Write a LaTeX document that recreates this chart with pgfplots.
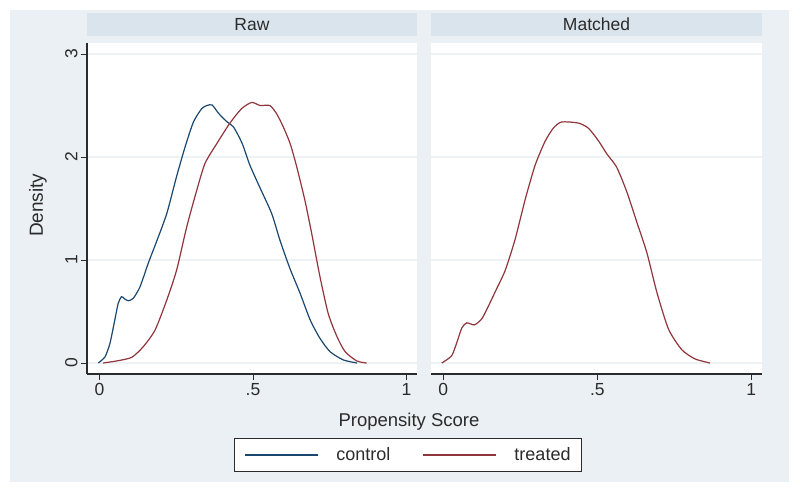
\documentclass[border=0pt]{standalone}
\usepackage{fontspec}
\setmainfont{Liberation Sans}
\usepackage{pgfplots}
\pgfplotsset{compat=1.18}

\definecolor{bgcol}{HTML}{EAF0F4}
\definecolor{stripcol}{HTML}{D9E4EC}
\definecolor{gridcol}{HTML}{EDF2F5}
\definecolor{ctrlcol}{HTML}{1A476F}
\definecolor{treatcol}{HTML}{90353B}
\definecolor{inkcol}{HTML}{2B2B2B}

\pgfplotsset{
  panel/.style={
    scale only axis, width=330bp, height=331bp,
    ymin=-0.1068, ymax=3.107,
    axis x line*=bottom, axis y line*=left,
    axis line style={inkcol, line width=1.1bp, -},
    ytick={0,1,2,3}, yticklabels={0,1,2,3},
    xtick={0,0.5,1}, xticklabels={0,.5,1},
    tick align=outside, major tick length=6bp,
    tick style={inkcol, line width=1bp},
    ymajorgrids, grid style={gridcol, line width=1.2bp},
    axis background/.style={fill=white},
    ticklabel style={font=\fontsize{17.5bp}{20bp}\selectfont, text=inkcol},
    yticklabel style={rotate=90, anchor=south},
    /pgf/number format/assume math mode=true,
    title style={at={(0.5,1)}, anchor=south, yshift=1bp, fill=stripcol,
      minimum width=330bp, minimum height=23bp, inner sep=0pt,
      font=\fontsize{17.5bp}{20bp}\selectfont, text=inkcol},
    every axis plot/.append style={line width=1.2bp, smooth, tension=0.4},
  },
  % legend sample: a thin filled bar 73bp long in the given colour, room after it
  keyline/.style={legend image code/.code={
    \begin{pgfscope}
      \pgfsetfillcolor{#1}
      \pgfpathrectangle{\pgfpoint{0bp}{-0.55bp}}{\pgfpoint{73bp}{1.1bp}}
      \pgfusepath{fill}
    \end{pgfscope}
    \pgfpathmoveto{\pgfpoint{91bp}{5bp}}
    \pgfpathmoveto{\pgfpoint{0bp}{-5bp}}
    \pgfusepath{}}},
}

\begin{document}
\begin{tikzpicture}
\path[use as bounding box] (0bp,0bp) rectangle (800bp,-493bp);
\fill[bgcol] (10bp,-10bp) rectangle (789bp,-482bp);

% Raw
\begin{axis}[panel, at={(87bp,-374bp)}, anchor=south west,
  xmin=-0.0407, xmax=1.0342,
  title={Raw},
  ylabel={Density},
  ylabel style={at={(axis description cs:-0.1485,0.51)}, anchor=center,
    font=\fontsize{19bp}{21bp}\selectfont, text=inkcol},
  xlabel={Propensity Score},
  xlabel style={at={(axis description cs:0.9758,-0.1571)}, anchor=base,
    font=\fontsize{18.5bp}{21bp}\selectfont, text=inkcol},
  legend columns=2,
  legend style={at={(0.9727,-0.2447)}, anchor=center, draw=inkcol,
    line width=1.1bp, fill=white, inner xsep=11bp, inner ysep=9bp,
    font=\fontsize{18bp}{21bp}\selectfont,
    nodes={inner sep=0pt},
    /tikz/every even column/.append style={column sep=33bp}},
]
\addplot[ctrlcol, keyline=ctrlcol] coordinates {
(-0.004,0) (0.018,0.06) (0.034,0.19) (0.050,0.42) (0.061,0.58)
(0.072,0.644) (0.083,0.62) (0.094,0.605) (0.110,0.628) (0.132,0.74)
(0.159,0.97) (0.186,1.18) (0.219,1.45) (0.251,1.81) (0.279,2.10)
(0.306,2.34) (0.333,2.47) (0.350,2.50) (0.367,2.505) (0.389,2.42)
(0.416,2.34) (0.437,2.29) (0.465,2.13) (0.490,1.92) (0.523,1.70)
(0.561,1.45) (0.588,1.19) (0.620,0.92) (0.653,0.68) (0.686,0.42)
(0.718,0.24) (0.751,0.11) (0.794,0.03) (0.839,0)
};
\addlegendentry{\textcolor{inkcol}{control}}
\addplot[treatcol, keyline=treatcol] coordinates {
(0.012,0) (0.056,0.02) (0.105,0.055) (0.143,0.16) (0.181,0.32)
(0.219,0.61) (0.251,0.90) (0.284,1.32) (0.317,1.68) (0.344,1.94)
(0.382,2.13) (0.425,2.33) (0.463,2.47) (0.496,2.53) (0.523,2.50)
(0.555,2.50) (0.577,2.42) (0.599,2.29) (0.621,2.13) (0.642,1.91)
(0.669,1.58) (0.691,1.26) (0.718,0.84) (0.745,0.48) (0.773,0.26)
(0.800,0.11) (0.838,0.02) (0.870,0)
};
\addlegendentry{\textcolor{inkcol}{treated}}
\end{axis}

% Matched (control and treated coincide; treated drawn on top)
\begin{axis}[panel, at={(431bp,-374bp)}, anchor=south west,
  width=331bp,
  xmin=-0.040, xmax=1.0347,
  title={Matched},
  title style={minimum width=331bp},
  y axis line style={draw=none},
  ytick style={draw=none},
  yticklabels={},
]
\addplot[treatcol] coordinates {
(-0.005,0) (0.027,0.07) (0.044,0.20) (0.060,0.34) (0.076,0.39)
(0.101,0.37) (0.125,0.43) (0.146,0.55) (0.173,0.72) (0.201,0.90)
(0.233,1.20) (0.266,1.59) (0.298,1.92) (0.330,2.15) (0.357,2.28)
(0.384,2.34) (0.438,2.33) (0.471,2.28) (0.503,2.16) (0.531,2.03)
(0.563,1.90) (0.596,1.66) (0.628,1.37) (0.661,1.07) (0.693,0.69)
(0.731,0.33) (0.774,0.13) (0.817,0.04) (0.866,0)
};
\end{axis}
\end{tikzpicture}
\end{document}
